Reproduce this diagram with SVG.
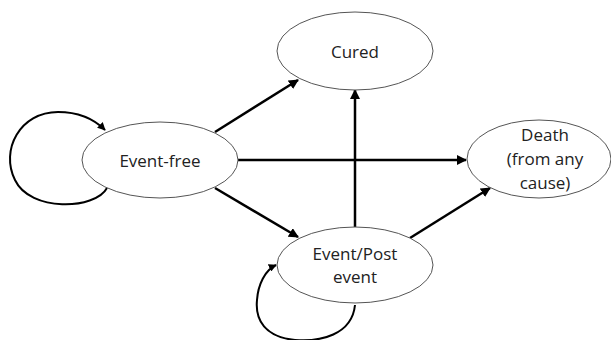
<svg xmlns="http://www.w3.org/2000/svg" width="611" height="340" viewBox="0 0 611 340">
<style>
.node ellipse{fill:#fff;stroke:#555;stroke-width:1}
.node text{font-family:"Open Sans","Liberation Sans",sans-serif;font-size:17px;fill:#222;text-anchor:middle}
.edge{fill:none;stroke:#000;stroke-width:2.5;marker-end:url(#ah)}
.loop{fill:none;stroke:#000;stroke-width:2;marker-end:url(#ah)}
</style>
<defs>
<marker id="ah" viewBox="0 0 10 10" refX="9" refY="5" markerWidth="4" markerHeight="4" markerUnits="strokeWidth" orient="auto">
<path d="M0,0 L10,5 L0,10 z" fill="#000"/>
</marker>
</defs>
<g id="connectors">
<path class="edge" d="M215,132 L298,80"/>
<path class="edge" d="M238,160 L466,160"/>
<path class="edge" d="M215,188 L298,237"/>
<path class="edge" d="M355,227 L355,90"/>
<path class="edge" d="M410,238 L490,188"/>
<path class="loop" d="M107,188 C95,210 30,212 15,180 C0,150 20,112 58,112 C80,112 95,120 105,130"/>
<path class="loop" d="M355,305 C352,335 320,342 295,340 C265,337 255,320 257,300 C258,285 265,270 276,265"/>
</g>
<g id="event-free" class="node">
<ellipse cx="160" cy="160" rx="78" ry="38"/>
<text x="160" y="167">Event-free</text>
</g>
<g id="cured" class="node">
<ellipse cx="355" cy="51" rx="78" ry="39"/>
<text x="355" y="58">Cured</text>
</g>
<g id="death" class="node">
<ellipse cx="539" cy="159" rx="72" ry="39"/>
<text x="545" y="141">Death</text>
<text x="545" y="165">(from any</text>
<text x="545" y="189">cause)</text>
</g>
<g id="event-post" class="node">
<ellipse cx="355" cy="265" rx="78" ry="38"/>
<text x="355" y="260">Event/Post</text>
<text x="355" y="283">event</text>
</g>
</svg>
